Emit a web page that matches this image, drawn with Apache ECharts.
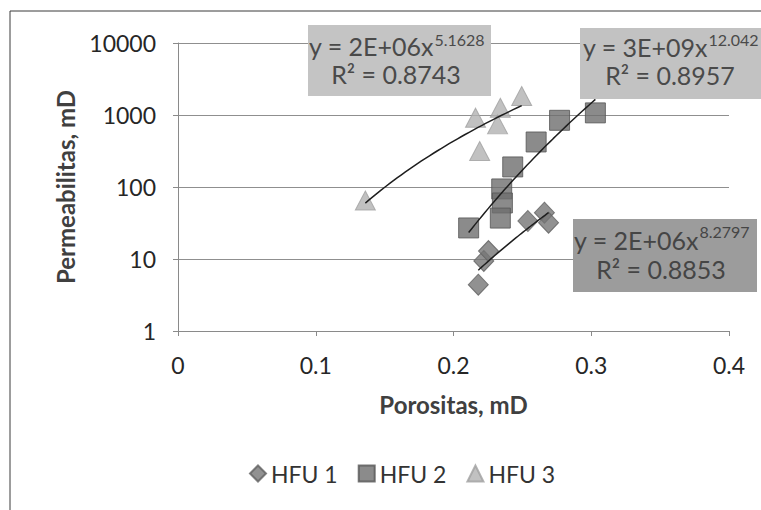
<!DOCTYPE html>
<html><head><meta charset="utf-8">
<script src="https://cdn.jsdelivr.net/npm/echarts@6/dist/echarts.min.js"></script>
<style>html,body{margin:0;padding:0;background:#fff}#c{width:761px;height:510px}</style>
</head><body><div id="c"></div>
<script>
// ---- data ----
const seriesNames = ['HFU 1', 'HFU 2', 'HFU 3'];
const hfu1X = [0.218, 0.222, 0.2254, 0.254, 0.266, 0.269];
const hfu1Y = [4.4, 9.4, 12.9, 33.7, 44, 31.9];
const hfu2X = [0.211, 0.235, 0.2355, 0.234, 0.243, 0.260, 0.277, 0.303];
const hfu2Y = [27, 94, 60, 37, 190, 422, 844, 1070];
const hfu3X = [0.136, 0.216, 0.219, 0.234, 0.232, 0.2495];
const hfu3Y = [65, 918, 316, 1260, 741, 1836];
const xTicks = [0, 0.1, 0.2, 0.3, 0.4];
const yTicks = [1, 10, 100, 1000, 10000];
const eqCoef = ['2E+06', '3E+09', '2E+06'];
const eqExp = ['8.2797', '12.042', '5.1628'];
const eqR2 = ['0.8853', '0.8957', '0.8743'];
const xTitle = 'Porositas, mD';
const yTitle = 'Permeabilitas, mD';

// ---- power-law least squares trendline (as Excel does) ----
function powerFit(xs, ys) {
  const lx = xs.map(Math.log), ly = ys.map(Math.log);
  const n = xs.length;
  const mx = lx.reduce((a, b) => a + b, 0) / n, my = ly.reduce((a, b) => a + b, 0) / n;
  let sxy = 0, sxx = 0;
  for (let i = 0; i < n; i++) { sxy += (lx[i] - mx) * (ly[i] - my); sxx += (lx[i] - mx) ** 2; }
  const b = sxy / sxx, a = Math.exp(my - b * mx);
  return { a, b };
}
function trend(xs, ys) {
  const f = powerFit(xs, ys);
  const x0 = Math.min(...xs), x1 = Math.max(...xs);
  const pts = [];
  const N = 40;
  for (let i = 0; i < N; i++) { const x = x0 + (x1 - x0) * i / (N - 1); pts.push([x, f.a * Math.pow(x, f.b)]); }
  return pts;
}
const zip = (xs, ys) => xs.map((x, i) => [x, ys[i]]);

const FONT = 'Lato, "Noto Sans", sans-serif';
const ctx = document.createElement('canvas').getContext('2d');
function tw(txt, font) { ctx.font = font; return ctx.measureText(txt).width; }

const chart = echarts.init(document.getElementById('c'), null, { renderer: 'svg' });

const MAINF = '25px ' + FONT, SUPF = '16px ' + FONT;
function eqBox(bx, by, bw, bh, fill, txtColor, cx, y1, supY, y2, idx) {
  const main = 'y = ' + eqCoef[idx] + 'x';
  const w1 = tw(main, MAINF), w2 = tw(eqExp[idx], SUPF);
  const split = cx - (w1 + w2) / 2 + w1;
  return [
    { type: 'rect', shape: { x: bx, y: by, width: bw, height: bh }, style: { fill: fill }, z: 10 },
    { type: 'text', x: split, y: y1, style: { text: main, font: MAINF, fill: txtColor, textAlign: 'right', textVerticalAlign: 'middle' }, z: 11 },
    { type: 'text', x: split + 1, y: supY, style: { text: eqExp[idx], font: SUPF, fill: txtColor, textAlign: 'left', textVerticalAlign: 'middle' }, z: 11 },
    { type: 'text', x: cx, y: y2, style: { text: 'R² = ' + eqR2[idx], font: MAINF, fill: txtColor, textAlign: 'center', textVerticalAlign: 'middle' }, z: 11 }
  ];
}

const option = {
  backgroundColor: '#ffffff',
  animation: false,
  grid: { left: 178, right: 32, top: 43, bottom: 179, containLabel: false },
  xAxis: {
    type: 'value', min: xTicks[0], max: xTicks[xTicks.length - 1], interval: 0.1,
    name: xTitle, nameLocation: 'middle', nameGap: 61,
    nameTextStyle: { fontFamily: FONT, fontSize: 24, fontWeight: 'bold', color: '#404040' },
    axisLine: { show: true, lineStyle: { color: '#8a8a8a', width: 1 } },
    axisTick: { show: true, length: 5, lineStyle: { color: '#8a8a8a' } },
    splitLine: { show: false },
    axisLabel: { fontFamily: FONT, fontSize: 23, color: '#262626', margin: 22, formatter: v => String(v) }
  },
  yAxis: {
    type: 'log', logBase: 10, min: yTicks[0], max: yTicks[yTicks.length - 1],
    name: yTitle, nameLocation: 'middle', nameGap: 101, nameRotate: 90,
    nameTextStyle: { fontFamily: FONT, fontSize: 24, fontWeight: 'bold', color: '#404040' },
    axisLine: { show: true, lineStyle: { color: '#8a8a8a', width: 1 } },
    axisTick: { show: true, length: 5, lineStyle: { color: '#8a8a8a' } },
    splitLine: { show: true, lineStyle: { color: '#8f8f8f', width: 1 } },
    axisLabel: { fontFamily: FONT, fontSize: 23, color: '#262626', margin: 22, formatter: v => String(v) }
  },
  legend: {
    data: seriesNames, left: 244, top: 457, itemWidth: 16, itemHeight: 16, itemGap: 20,
    textStyle: { fontFamily: FONT, fontSize: 23, color: '#333' }
  },
  series: [
    { name: seriesNames[0], type: 'scatter', symbol: 'diamond', symbolSize: [20, 21], data: zip(hfu1X, hfu1Y),
      itemStyle: { color: '#767676', borderColor: '#606060', borderWidth: 1 }, z: 2 },
    { name: seriesNames[1], type: 'scatter', symbol: 'rect', symbolSize: 20, data: zip(hfu2X, hfu2Y),
      itemStyle: { color: '#6e6e6e', borderColor: '#555', borderWidth: 1 }, z: 2 },
    { name: seriesNames[2], type: 'scatter', symbol: 'triangle', symbolSize: [20, 19], data: zip(hfu3X, hfu3Y),
      itemStyle: { color: '#b2b2b2', borderColor: '#a0a0a0', borderWidth: 1 }, z: 2 },
    { name: 't1', type: 'line', data: trend(hfu1X, hfu1Y), showSymbol: false, symbol: 'none', lineStyle: { color: '#1e1e1e', width: 1.5 }, z: 5, silent: true },
    { name: 't2', type: 'line', data: trend(hfu2X, hfu2Y), showSymbol: false, symbol: 'none', lineStyle: { color: '#1e1e1e', width: 1.5 }, z: 5, silent: true },
    { name: 't3', type: 'line', data: trend(hfu3X, hfu3Y), showSymbol: false, symbol: 'none', lineStyle: { color: '#1e1e1e', width: 1.5 }, z: 5, silent: true }
  ],
  graphic: [
    { type: 'rect', shape: { x: 10, y: 11, width: 800, height: 520 }, style: { fill: 'none', stroke: '#3a3a3a', lineWidth: 1 }, z: 0, silent: true },
    ...eqBox(308, 25, 183, 71, '#c4c4c4', '#4a4a4a', 396, 46, 39, 74, 2),
    ...eqBox(580, 28, 183, 71, '#c2c2c2', '#4a4a4a', 670, 47, 39, 75, 1),
    ...eqBox(573, 219, 184, 73, '#9c9c9c', '#454545', 661, 240, 231, 269, 0)
  ]
};
chart.setOption(option);
</script></body></html>
